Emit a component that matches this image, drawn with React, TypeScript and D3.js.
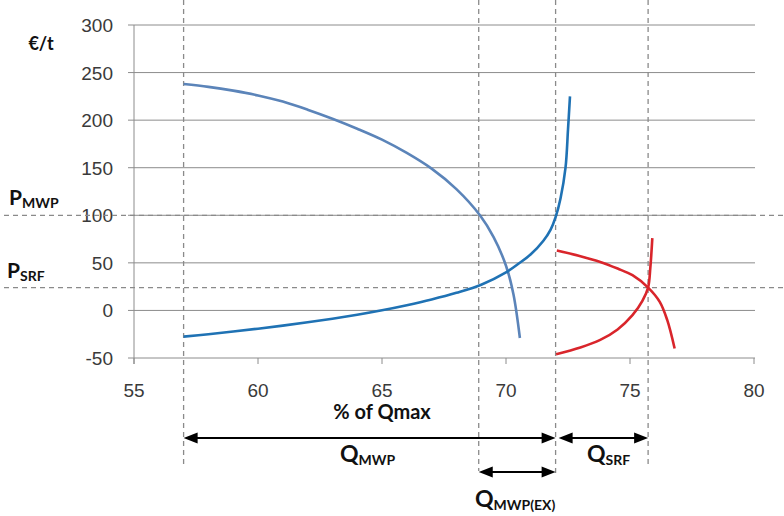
import React from "react";
import * as d3 from "d3";

const xTicks = [55, 60, 65, 70, 75, 80];
const yTicks = [-50, 0, 50, 100, 150, 200, 250, 300];

// MWP demand curve (decreasing)
const mwpDemandQ = [57, 58, 59, 60, 61, 62, 63, 64, 65, 66, 67, 68, 68.95, 69.5, 70, 70.3, 70.56];
const mwpDemandP = [238, 235, 231, 226, 219.5, 211, 201.5, 191, 179.5, 165.5, 149, 127.5, 100, 77, 47, 17, -29];

// MWP supply curve (increasing)
const mwpSupplyQ = [57, 58, 59, 60, 61, 62, 63, 64, 65, 66, 67, 68, 69, 70, 70.5, 71, 71.5, 71.8, 72, 72.2, 72.4, 72.5, 72.58];
const mwpSupplyP = [-27.5, -25, -22.2, -19.2, -16, -12.5, -8.7, -4.5, 0.2, 5.5, 11.5, 18.5, 27, 40, 49, 59, 73, 85, 98, 118, 150, 190, 225];

// SRF demand curve (decreasing)
const srfDemandQ = [72.05, 73, 73.8, 74.5, 75.1, 75.73, 76.2, 76.5, 76.8];
const srfDemandP = [63, 57, 51, 44, 37, 24, 9, -10, -40];

// SRF supply curve (increasing)
const srfSupplyQ = [72.02, 73, 73.8, 74.5, 75.1, 75.5, 75.73, 75.82, 75.9];
const srfSupplyP = [-46, -39, -31, -20, -5, 10, 24, 45, 76];

// reference levels
const priceLevels = [100, 24];
const priceLabels = ["MWP", "SRF"];
const qLines = [57, 68.9, 72, 75.73];

const zip = (a: number[], b: number[]) => a.map((v, i) => [v, b[i]] as [number, number]);

export default function App() {
  const W = 784, H = 516;
  const x = d3.scaleLinear().domain([55, 80]).range([134, 754]);
  const y = d3.scaleLinear().domain([-50, 300]).range([358, 25]);
  const line = d3
    .line<[number, number]>()
    .x((d) => x(d[0]))
    .y((d) => y(d[1]))
    .curve(d3.curveCatmullRom.alpha(0.5));

  const gridColor = "#8c8c8c";
  const dashColor = "#8a8a8a";
  const tickFont = "'Liberation Sans', Arial, sans-serif";
  const boldFont = "Lato, 'Open Sans', sans-serif";

  const arrow = (x1: number, x2: number, yy: number, key: string) => {
    const hl = 14, hw = 5.5;
    return (
      <g key={key}>
        <line x1={x1 + hl - 1} x2={x2 - hl + 1} y1={yy} y2={yy} stroke="#000" strokeWidth={2} />
        <path d={`M${x1},${yy} L${x1 + hl},${yy - hw} L${x1 + hl},${yy + hw} Z`} fill="#000" />
        <path d={`M${x2},${yy} L${x2 - hl},${yy - hw} L${x2 - hl},${yy + hw} Z`} fill="#000" />
      </g>
    );
  };

  const qBottoms = [468, 471, 473, 468];

  return (
    <svg
      width={W}
      height={H}
      style={{ position: "absolute", left: 0, top: 0, background: "#fff" }}
    >
      <rect width={W} height={H} fill="#fff" />
      {/* gridlines */}
      {yTicks.map((t) => (
        <line
          key={"g" + t}
          x1={128}
          x2={755}
          y1={y(t)}
          y2={y(t)}
          stroke={gridColor}
          strokeWidth={1}
        />
      ))}
      {/* y axis */}
      <line x1={x(55)} x2={x(55)} y1={y(300)} y2={y(-50) + 6} stroke={gridColor} strokeWidth={1} />
      {/* x ticks */}
      {xTicks.map((t) => (
        <line key={"xt" + t} x1={x(t)} x2={x(t)} y1={y(-50)} y2={y(-50) + 6} stroke={gridColor} strokeWidth={1} />
      ))}
      {/* y labels */}
      {yTicks.map((t) => (
        <text
          key={"yl" + t}
          x={113}
          y={y(t) + 7}
          textAnchor="end"
          fontFamily={tickFont}
          fontSize={19}
          fill="#3a3a3a"
        >
          {t}
        </text>
      ))}
      {/* x labels */}
      {xTicks.map((t) => (
        <text
          key={"xl" + t}
          x={x(t)}
          y={397}
          textAnchor="middle"
          fontFamily={tickFont}
          fontSize={19}
          fill="#3a3a3a"
        >
          {t}
        </text>
      ))}
      {/* horizontal dashed price levels */}
      {priceLevels.map((p) => (
        <line
          key={"pl" + p}
          x1={4}
          x2={784}
          y1={y(p)}
          y2={y(p)}
          stroke={dashColor}
          strokeWidth={1.3}
          strokeDasharray="5,4"
        />
      ))}
      {/* vertical dashed quantity lines */}
      {qLines.map((q, i) => (
        <line
          key={"ql" + q}
          x1={x(q)}
          x2={x(q)}
          y1={0}
          y2={qBottoms[i]}
          stroke={dashColor}
          strokeWidth={1.3}
          strokeDasharray="5,4"
        />
      ))}
      {/* curves */}
      <path d={line(zip(mwpDemandQ, mwpDemandP)) || ""} fill="none" stroke="#5b84b9" strokeWidth={2.6} />
      <path d={line(zip(mwpSupplyQ, mwpSupplyP)) || ""} fill="none" stroke="#1f72b4" strokeWidth={2.6} />
      <path d={line(zip(srfDemandQ, srfDemandP)) || ""} fill="none" stroke="#d9252b" strokeWidth={2.6} />
      <path d={line(zip(srfSupplyQ, srfSupplyP)) || ""} fill="none" stroke="#d9252b" strokeWidth={2.6} />

      {/* axis titles */}
      <text x={41} y={50} textAnchor="middle" fontFamily={boldFont} fontWeight="bold" fontSize={18} fill="#111">
        €/t
      </text>
      <text x={382} y={419} textAnchor="middle" fontFamily={boldFont} fontWeight="bold" fontSize={20} fill="#111">
        % of Qmax
      </text>

      {/* price labels */}
      {priceLabels.map((lab, i) => (
        <text key={"plab" + lab} x={i === 0 ? 9 : 7} y={y(priceLevels[i]) - 10} fontFamily={boldFont} fontWeight="bold" fill="#111">
          <tspan fontSize={21}>P</tspan>
          <tspan fontSize={14} dy={3}>{lab}</tspan>
        </text>
      ))}

      {/* quantity arrows */}
      {arrow(x(qLines[0]), x(qLines[2]), 438, "a1")}
      {arrow(x(qLines[2]) + 3, x(qLines[3]), 438, "a2")}
      {arrow(x(qLines[1]), x(qLines[2]), 472, "a3")}

      <text x={340} y={462} fontFamily={boldFont} fontWeight="bold" fill="#111">
        <tspan fontSize={23}>Q</tspan>
        <tspan fontSize={14} dy={3}>MWP</tspan>
      </text>
      <text x={587} y={462} fontFamily={boldFont} fontWeight="bold" fill="#111">
        <tspan fontSize={23}>Q</tspan>
        <tspan fontSize={14} dy={3}>SRF</tspan>
      </text>
      <text x={475} y={507} fontFamily={boldFont} fontWeight="bold" fill="#111">
        <tspan fontSize={23}>Q</tspan>
        <tspan fontSize={14} dy={3}>MWP(EX)</tspan>
      </text>
    </svg>
  );
}
